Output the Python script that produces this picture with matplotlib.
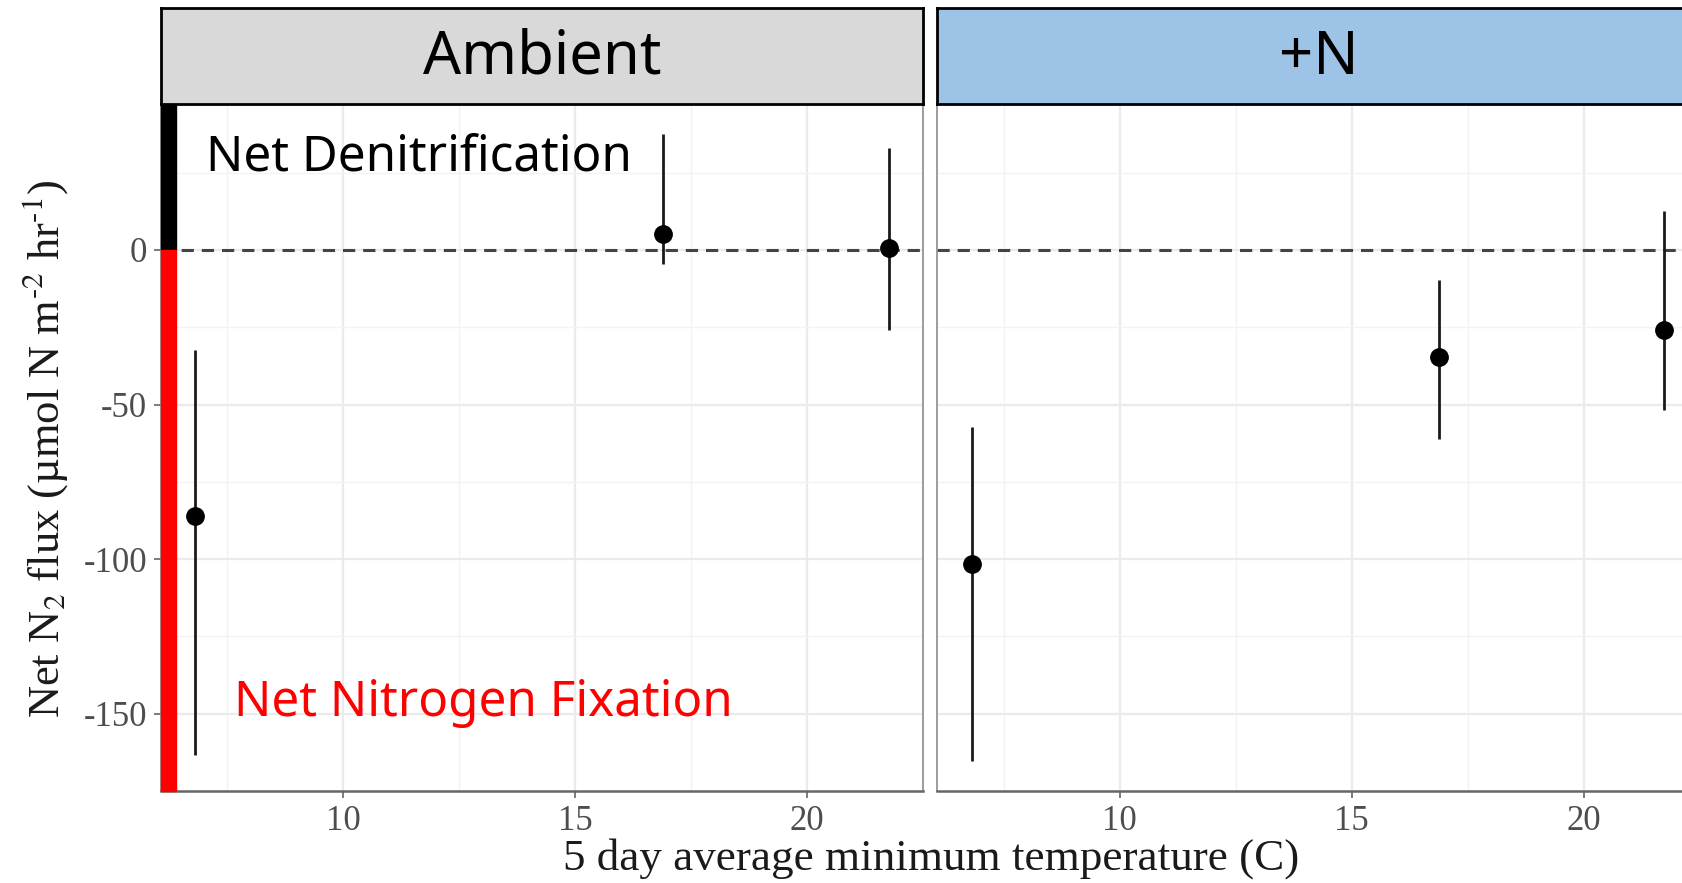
import matplotlib
matplotlib.use("Agg")
import matplotlib.pyplot as plt
import matplotlib.transforms as mtransforms
from matplotlib.patches import Rectangle
from matplotlib.ticker import MultipleLocator

# ---- data ----
panels = ["Ambient", "+N"]
strip_colors = ["#d9d9d9", "#9dc3e6"]
temp_ambient = [6.81, 16.90, 21.76]
flux_ambient = [-86.0, 5.2, 0.7]
lo_ambient = [-163.5, -4.5, -26.0]
hi_ambient = [-32.3, 37.5, 33.0]
temp_n = [6.81, 16.88, 21.73]
flux_n = [-101.7, -34.7, -26.0]
lo_n = [-165.3, -61.1, -51.7]
hi_n = [-57.3, -9.7, 12.5]
x_ticks = [10, 15, 20]
y_ticks = [0, -50, -100, -150]

plt.rcParams["mathtext.fontset"] = "stix"
plt.rcParams["axes.unicode_minus"] = False

W, H = 1683, 883
fig = plt.figure(figsize=(W / 100, H / 100), dpi=100)

serif = "Liberation Serif"
sans = "Noto Sans"

def fx(px):
    return px / W

def fy(py):
    return 1 - py / H

ax_left = [161, 937.5]
ax_w = 762
top_px, bot_px = 104, 791
strip_top = 7.5

data = [
    (temp_ambient, flux_ambient, lo_ambient, hi_ambient),
    (temp_n, flux_n, lo_n, hi_n),
]

axes = []
for i, (name, col) in enumerate(zip(panels, strip_colors)):
    x0 = ax_left[i]
    ax = fig.add_axes([fx(x0), fy(bot_px), ax_w / W, (bot_px - top_px) / H])
    axes.append(ax)
    ax.set_xlim(6.07, 22.5)
    ax.set_ylim(-175, 47.2)
    ax.xaxis.set_major_locator(MultipleLocator(5))
    ax.xaxis.set_minor_locator(MultipleLocator(2.5))
    ax.yaxis.set_major_locator(MultipleLocator(50))
    ax.yaxis.set_minor_locator(MultipleLocator(25))
    ax.set_xticks(x_ticks)
    ax.set_yticks(y_ticks)
    ax.grid(which="major", color="#ebebeb", lw=1.6, zorder=0)
    ax.grid(which="minor", color="#f3f3f3", lw=1.0, zorder=0)
    ax.set_axisbelow(True)
    for s in ["left", "right", "top", "bottom"]:
        ax.spines[s].set_color("#8c8c8c")
        ax.spines[s].set_linewidth(1.2)
    ax.spines["bottom"].set_color("#666666")
    ax.spines["bottom"].set_linewidth(1.8)
    ax.tick_params(which="both", direction="out", color="#666666", width=1.2)
    ax.tick_params(which="major", length=5, labelsize=25, labelcolor="#4d4d4d", pad=5)
    ax.tick_params(which="minor", length=0)
    for lab in ax.get_xticklabels() + ax.get_yticklabels():
        lab.set_fontfamily(serif)
    if i == 1:
        ax.tick_params(axis="y", left=False, labelleft=False)

    ax.axhline(0, color="#444444", lw=2.2, ls=(0, (4, 2.6)), zorder=2)

    t, f, lo, hi = data[i]
    ax.vlines(t, lo, hi, color="#1a1a1a", lw=2.0, zorder=3)
    ax.plot(t, f, "o", color="black", ms=12.5, zorder=4)

    # strip
    sax = fig.add_axes([fx(x0), fy(top_px), ax_w / W, (top_px - strip_top) / H])
    sax.set_facecolor(col)
    sax.set_xticks([])
    sax.set_yticks([])
    for s in sax.spines.values():
        s.set_color("black")
        s.set_linewidth(2.0)
    sax.text(0.5, 0.48, name, transform=sax.transAxes, ha="center", va="center",
             fontsize=43, family=sans, color="black")

# coloured bar on the left panel
ax = axes[0]
tr = mtransforms.blended_transform_factory(ax.transAxes, ax.transData)
bw = 15 / ax_w
ax.add_patch(Rectangle((0, 0), bw, 47.2, transform=tr, color="black", zorder=5, clip_on=False))
ax.add_patch(Rectangle((0, -175), bw, 175, transform=tr, color="#ff0000", zorder=5, clip_on=False))
ax.text(7.04, 30.0, "Net Denitrification", fontsize=35.5, family=sans, color="black",
        ha="left", va="center", zorder=6)
ax.text(7.64, -146.5, "Net Nitrogen Fixation", fontsize=35.5, family=sans, color="#ff0000",
        ha="left", va="center", zorder=6)

fig.text(fx(931), fy(859), "5 day average minimum temperature (C)", ha="center", va="center",
         fontsize=32.5, family=serif, color="#1a1a1a")
fig.text(fx(45), fy(449), "Net N$_2$ flux (µmol N m$^{\u20102}$ hr$^{\u20101}$)",
         rotation=90, ha="center", va="center", fontsize=32, family=serif, color="#1a1a1a")

fig.savefig("out.png", dpi=100)
